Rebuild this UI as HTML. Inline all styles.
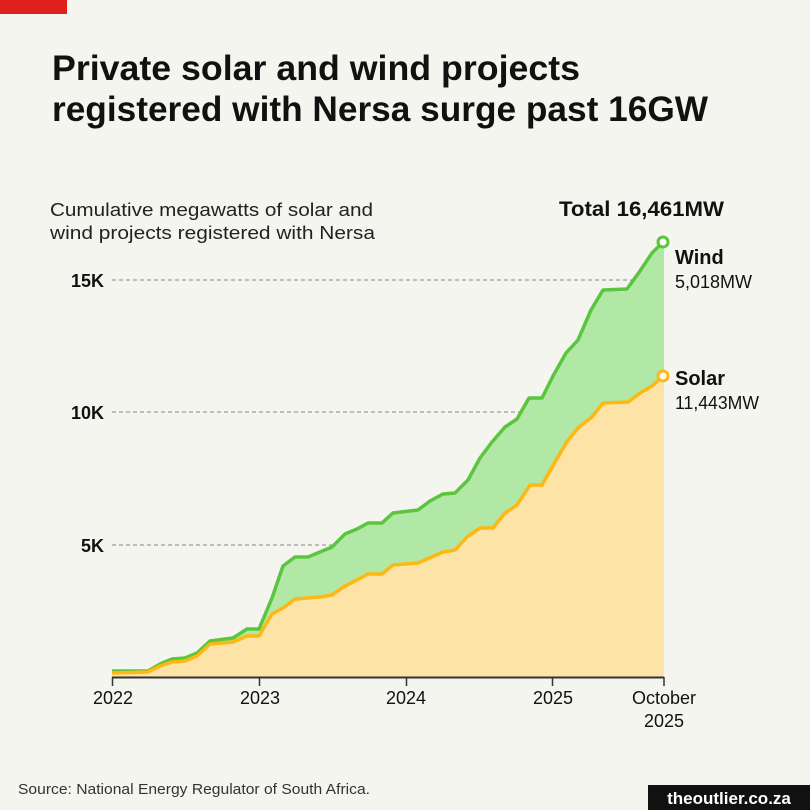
<!DOCTYPE html>
<html><head><meta charset="utf-8"><style>
body{margin:0;background:#f5f5f0}
svg{display:block}
text{font-family:"Liberation Sans",sans-serif}
</style></head><body>
<svg width="810" height="810" viewBox="0 0 810 810" xmlns="http://www.w3.org/2000/svg">
<rect width="810" height="810" fill="#f5f5f0"/>
<rect x="0" y="0" width="67" height="14" fill="#e0201c"/>
<text x="52" y="80" font-size="35" font-weight="bold" fill="#111" textLength="528" lengthAdjust="spacingAndGlyphs">Private solar and wind projects</text>
<text x="52" y="121" font-size="35" font-weight="bold" fill="#111" textLength="656" lengthAdjust="spacingAndGlyphs">registered with Nersa surge past 16GW</text>
<text x="50" y="216" font-size="18" fill="#222" textLength="323" lengthAdjust="spacingAndGlyphs">Cumulative megawatts of solar and</text>
<text x="50" y="239" font-size="18" fill="#222" textLength="325" lengthAdjust="spacingAndGlyphs">wind projects registered with Nersa</text>
<text x="559" y="216" font-size="21" font-weight="bold" fill="#111" textLength="165" lengthAdjust="spacingAndGlyphs">Total 16,461MW</text>
<g stroke="#888" stroke-dasharray="4,3" stroke-width="1">
<line x1="112" y1="280" x2="664" y2="280"/>
<line x1="112" y1="412" x2="664" y2="412"/>
<line x1="112" y1="545" x2="664" y2="545"/>
</g>
<g font-size="18" font-weight="bold" fill="#111" text-anchor="end">
<text x="104" y="287">15K</text><text x="104" y="419">10K</text><text x="104" y="552">5K</text>
</g>
<polygon fill="#b2e8a6" points="112,671 148,671 160,664 172,659 185,658 197,653 210,641 233,638 247,629 259,629 272,598 283,566 295,557 308,557 320,552 332,547 345,534 357,529 368,523 382,523 393,513 418,510 430,501 443,494 455,493 468,480 480,458 492,442 505,427 517,419 529,398 542,398 553,376 566,353 578,340 591,310 603,290 627,289 640,271 652,253 663,242 664,241 664,677 112,677"/>
<polygon fill="#fde4a6" points="112,673 148,672 160,666 172,662 185,661 197,656 210,644 233,642 247,636 259,636 272,614 283,608 295,599 320,597 332,595 345,586 357,580 368,574 382,574 393,565 418,563 443,552 455,550 467,537 480,528 493,528 505,513 517,505 530,485 542,485 555,462 568,440 579,427 592,417 603,403 628,402 640,393 652,386 663,376 664,376 664,677 112,677"/>
<polyline fill="none" stroke="#5cc53e" stroke-width="3.5" stroke-linejoin="round" points="112,671 148,671 160,664 172,659 185,658 197,653 210,641 233,638 247,629 259,629 272,598 283,566 295,557 308,557 320,552 332,547 345,534 357,529 368,523 382,523 393,513 418,510 430,501 443,494 455,493 468,480 480,458 492,442 505,427 517,419 529,398 542,398 553,376 566,353 578,340 591,310 603,290 627,289 640,271 652,253 663,242"/>
<polyline fill="none" stroke="#fdb813" stroke-width="3.5" stroke-linejoin="round" points="112,673 148,672 160,666 172,662 185,661 197,656 210,644 233,642 247,636 259,636 272,614 283,608 295,599 320,597 332,595 345,586 357,580 368,574 382,574 393,565 418,563 443,552 455,550 467,537 480,528 493,528 505,513 517,505 530,485 542,485 555,462 568,440 579,427 592,417 603,403 628,402 640,393 652,386 663,376"/>
<circle cx="663" cy="242" r="5" fill="#fff" stroke="#5cc53e" stroke-width="3"/>
<circle cx="663" cy="376" r="5" fill="#fff" stroke="#fdb813" stroke-width="3"/>
<text x="675" y="264" font-size="20" font-weight="bold" fill="#111">Wind</text>
<text x="675" y="288" font-size="18" fill="#111" textLength="77" lengthAdjust="spacingAndGlyphs">5,018MW</text>
<text x="675" y="385" font-size="20" font-weight="bold" fill="#111">Solar</text>
<text x="675" y="409" font-size="18" fill="#111" textLength="84" lengthAdjust="spacingAndGlyphs">11,443MW</text>
<line x1="112" y1="677.5" x2="664" y2="677.5" stroke="#333" stroke-width="2"/>
<g stroke="#333" stroke-width="1.5">
<line x1="112.5" y1="677" x2="112.5" y2="686"/><line x1="259.5" y1="677" x2="259.5" y2="686"/>
<line x1="406.5" y1="677" x2="406.5" y2="686"/><line x1="552.5" y1="677" x2="552.5" y2="686"/>
<line x1="664" y1="677" x2="664" y2="686"/>
</g>
<g font-size="18" fill="#111" text-anchor="middle">
<text x="113" y="704">2022</text><text x="260" y="704">2023</text><text x="406" y="704">2024</text><text x="553" y="704">2025</text>
<text x="664" y="704">October</text><text x="664" y="727">2025</text>
</g>
<text x="18" y="794" font-size="14.5" fill="#333" textLength="352" lengthAdjust="spacingAndGlyphs">Source: National Energy Regulator of South Africa.</text>
<rect x="648" y="785" width="162" height="25" fill="#111"/>
<text x="729" y="804" font-size="17" font-weight="bold" fill="#fff" text-anchor="middle">theoutlier.co.za</text>
</svg>
</body></html>
